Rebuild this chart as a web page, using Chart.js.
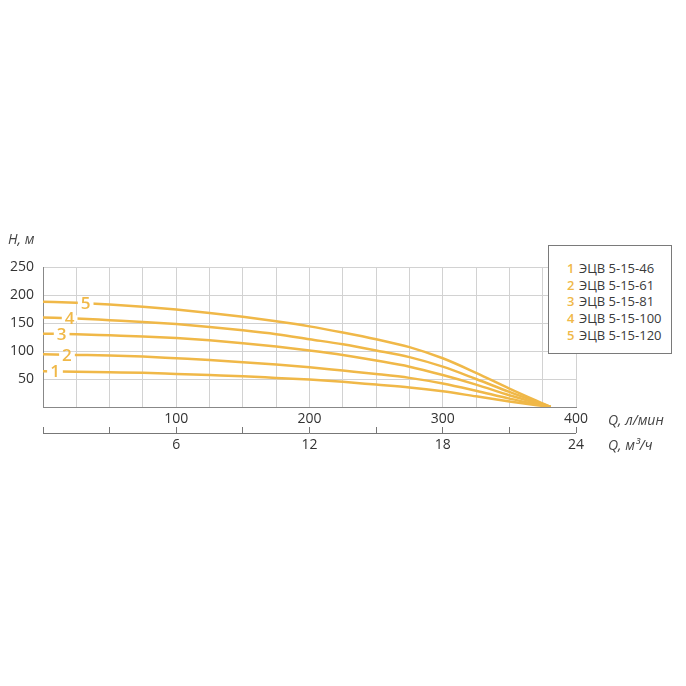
<!DOCTYPE html>
<html>
<head>
<meta charset="utf-8">
<script src="https://cdn.jsdelivr.net/npm/chart.js@4"></script>
<style>
  html, body { margin: 0; padding: 0; background: #fff; }
  #wrap { position: relative; width: 686px; height: 686px; }
  #legend {
    position: absolute; left: 548px; top: 245px; width: 124px; height: 109px;
    border: 1px solid #7a7a7a; background: #fff;
    font: 13px "Open Sans", sans-serif; color: #3a3a3a;
    padding: 14px 0 0 18px; box-sizing: border-box; line-height: 16.7px;
  }
  #legend .n { color: #f0b848; display: inline-block; width: 12px; font-weight: 600; }
</style>
</head>
<body>
<div id="wrap">
  <canvas id="chart" width="686" height="686"></canvas>
  <div id="legend"></div>
</div>
<script>
// подача, л/мин
const flowQ = [0, 25, 50, 75, 100, 125, 150, 175, 200, 225, 250, 275, 300, 325, 350, 381];
// напор, м
const head1 = [64, 63, 62, 61, 59, 57, 55, 52, 49, 45, 40, 35, 28, 19, 10, 0];
const head2 = [94, 93, 92, 90, 87, 84, 80, 76, 71, 65, 59, 52, 42, 29, 15, 0];
const head3 = [131, 130, 128, 126, 123, 119, 114, 108, 101, 93, 83, 72, 57, 40, 21, 0];
const head4 = [160, 158, 155, 152, 148, 143, 137, 130, 121, 112, 101, 89, 72, 50, 27, 0];
const head5 = [188, 186, 183, 179, 174, 168, 161, 153, 144, 133, 121, 107, 87, 61, 33, 0];
const pumpNames = ['ЭЦВ 5-15-46', 'ЭЦВ 5-15-61', 'ЭЦВ 5-15-81', 'ЭЦВ 5-15-100', 'ЭЦВ 5-15-120'];
const curveNums = ['1', '2', '3', '4', '5'];

const lineColor = '#f0b848';
const allHeads = [head1, head2, head3, head4, head5];

// легенда
document.getElementById('legend').innerHTML = pumpNames
  .map((n, i) => `<div><span class="n">${curveNums[i]}</span>${n}</div>`).join('');

// где подписывать кривые (по Q)
const labelAt = [9, 18, 14, 20, 32];

function headAt(arr, q) {
  for (let i = 0; i < flowQ.length - 1; i++) {
    if (q >= flowQ[i] && q <= flowQ[i + 1]) {
      let t = (q - flowQ[i]) / (flowQ[i + 1] - flowQ[i]);
      return arr[i] + t * (arr[i + 1] - arr[i]);
    }
  }
  return arr[0];
}

const extras = {
  id: 'extras',
  afterDatasetsDraw(chart) {
    const { ctx, scales: { x, y, x2 } } = chart;
    ctx.save();
    // номера кривых
    ctx.font = '600 17px "Open Sans", sans-serif';
    ctx.textAlign = 'center';
    ctx.textBaseline = 'middle';
    allHeads.forEach((arr, i) => {
      let px = x.getPixelForValue(labelAt[i]);
      let py = y.getPixelForValue(headAt(arr, labelAt[i]));
      let w = ctx.measureText(curveNums[i]).width + 6;
      ctx.fillStyle = '#fff';
      ctx.fillRect(px - w / 2, py - 3, w, 6);
      ctx.fillStyle = lineColor;
      ctx.fillText(curveNums[i], px, py + 1);
    });
    // линия второй оси
    let ly = x2.top + 6.5;
    ctx.strokeStyle = '#777';
    ctx.lineWidth = 1;
    ctx.beginPath();
    ctx.moveTo(x2.left, ly);
    ctx.lineTo(x2.right, ly);
    ctx.stroke();
    // подписи осей
    ctx.fillStyle = '#444';
    ctx.textAlign = 'left';
    ctx.font = 'italic 14px "Open Sans", sans-serif';
    ctx.fillText('H, м', 8, 240);
    ctx.fillText('Q, л/мин', x.right + 32, x.top + 14);
    ctx.fillText('Q, м³/ч', x.right + 32, x2.top + 19);
    ctx.restore();
  }
};

new Chart(document.getElementById('chart'), {
  type: 'line',
  data: {
    datasets: allHeads.map((arr, i) => ({
      label: pumpNames[i],
      data: flowQ.map((q, k) => ({ x: q, y: arr[k] })),
      borderColor: lineColor,
      borderWidth: 2.5,
      pointRadius: 0,
      cubicInterpolationMode: 'monotone',
      fill: false
    }))
  },
  options: {
    responsive: false,
    animation: false,
    layout: { padding: { left: 0, right: 110, top: 267, bottom: 225 } },
    plugins: { legend: { display: false }, tooltip: { enabled: false } },
    scales: {
      x: {
        type: 'linear', position: 'bottom', min: 0, max: 400,
        afterFit: s => { s.height = 20; },
        ticks: {
          stepSize: 25, padding: 4, color: '#333',
          font: { family: '"Open Sans", sans-serif', size: 14 },
          callback: v => (v > 0 && v % 100 === 0) ? v : ''
        },
        grid: { color: '#d2d2d2', drawTicks: false },
        border: { color: '#888' }
      },
      x2: {
        type: 'linear', position: 'bottom', min: 0, max: 24,
        afterFit: s => { s.height = 34; },
        ticks: {
          stepSize: 3, padding: 4, color: '#333', autoSkip: false, maxRotation: 0,
          font: { family: '"Open Sans", sans-serif', size: 14 },
          callback: v => (v > 0 && v % 6 === 0) ? v : ''
        },
        grid: { drawOnChartArea: false, drawTicks: true, tickLength: 6, color: '#777' },
        border: { display: false }
      },
      y: {
        min: 0, max: 250,
        afterFit: s => { s.width = 43; },
        ticks: {
          stepSize: 50, padding: 9, color: '#333',
          font: { family: '"Open Sans", sans-serif', size: 14 },
          callback: v => v > 0 ? v : ''
        },
        grid: { color: '#d2d2d2', drawTicks: false },
        border: { color: '#888' }
      }
    }
  },
  plugins: [extras]
});
</script>
</body>
</html>
